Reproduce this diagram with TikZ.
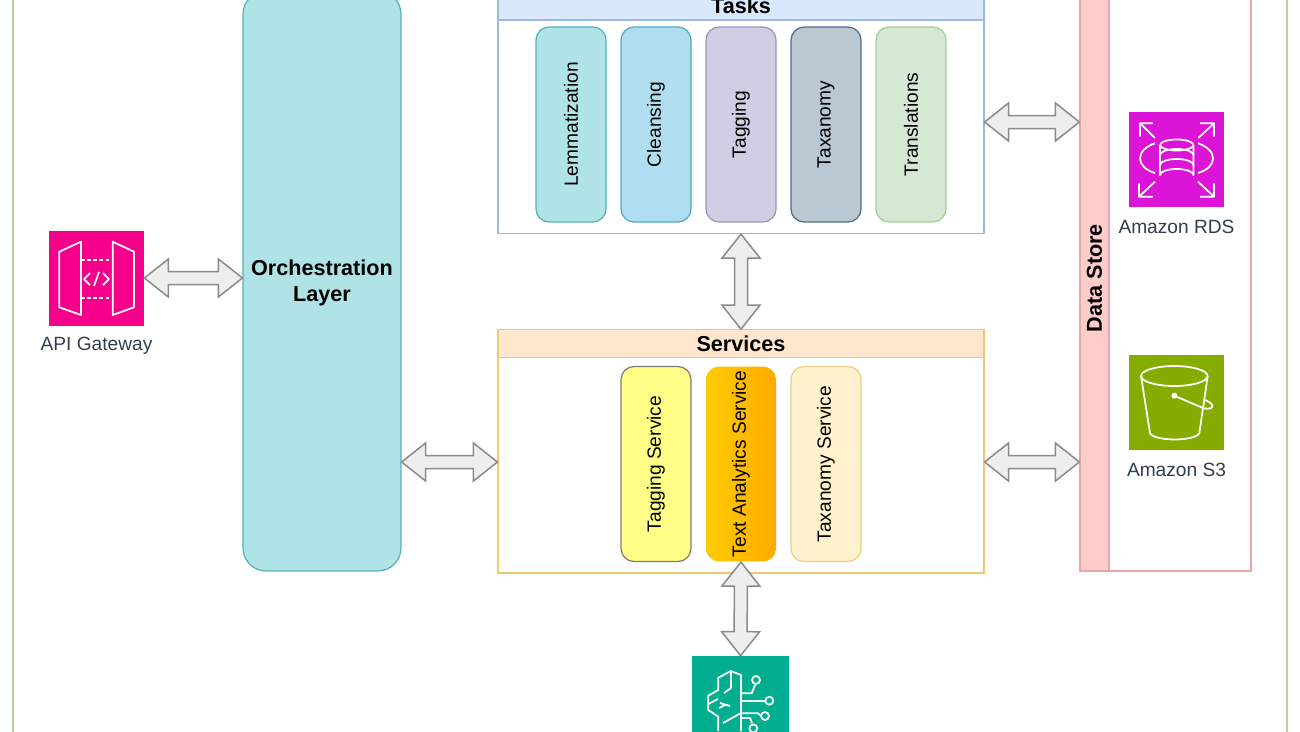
\documentclass[tikz,border=0pt]{standalone}
\usepackage{fontspec}
\setmainfont{Liberation Sans}
\usetikzlibrary{calc}

\definecolor{framegreen}{HTML}{AFD69B}
\definecolor{tealfill}{HTML}{B0E3E6}
\definecolor{tealline}{HTML}{52B3B8}
\definecolor{bluefill}{HTML}{B1DDF0}
\definecolor{blueline}{HTML}{4FA8CC}
\definecolor{purplefill}{HTML}{D0CEE2}
\definecolor{purpleline}{HTML}{9A95BC}
\definecolor{slatefill}{HTML}{BAC8D3}
\definecolor{slateline}{HTML}{4F6B82}
\definecolor{greenfill}{HTML}{D5E8D4}
\definecolor{greenline}{HTML}{A7CC9B}
\definecolor{taskshead}{HTML}{DAE8FC}
\definecolor{tasksline}{HTML}{9DB8DE}
\definecolor{svchead}{HTML}{FFE6CC}
\definecolor{svcline}{HTML}{F3C674}
\definecolor{lemonfill}{HTML}{FFFF88}
\definecolor{lemonline}{HTML}{7E7F72}
\definecolor{creamfill}{HTML}{FFF2CC}
\definecolor{creamline}{HTML}{EBCE86}
\definecolor{amberleft}{HTML}{FFCC00}
\definecolor{amberright}{HTML}{FFAA00}
\definecolor{storefill}{HTML}{FFCCCC}
\definecolor{storeline}{HTML}{E5A8A6}
\definecolor{apipink}{HTML}{F4008A}
\definecolor{rdspurple}{HTML}{DC14D8}
\definecolor{s3green}{HTML}{86AC00}
\definecolor{aigreen}{HTML}{01AE8F}
\definecolor{labelgray}{HTML}{2F3E50}
\definecolor{arrowline}{HTML}{8A8A8A}
\definecolor{arrowfill}{HTML}{EEEEEE}

\newcommand{\vlabel}[1]{\rotatebox{90}{#1}}

\tikzset{
    cardbox/.style={draw, line width=0.7pt, rounded corners=0.26cm, minimum width=1.4cm,
        minimum height=3.9cm, inner sep=0pt, font=\fontsize{10.9}{13}\selectfont},
    groupbox/.style={draw, line width=0.7pt, minimum width=9.72cm, inner sep=0pt},
    headbox/.style={draw, line width=0.7pt, minimum width=9.72cm, inner sep=0pt,
        font=\fontsize{12.3}{14}\selectfont\bfseries},
    iconbox/.style={minimum size=1.9cm, inner sep=0pt},
    iconlabel/.style={text=labelgray, inner sep=0pt, font=\fontsize{10.9}{13}\selectfont},
    iconline/.style={white, line width=1pt, line join=round},
    blockarrow/.style={draw=arrowline, fill=arrowfill, line width=0.85pt, line join=miter,
        to path={
            -- ($(\tikztostart)!0.48cm!(\tikztotarget)!0.38cm!90:(\tikztotarget)$)
            -- ($(\tikztostart)!0.48cm!(\tikztotarget)!0.13cm!90:(\tikztotarget)$)
            -- ($(\tikztotarget)!0.48cm!(\tikztostart)!0.13cm!-90:(\tikztostart)$)
            -- ($(\tikztotarget)!0.48cm!(\tikztostart)!0.38cm!-90:(\tikztostart)$)
            -- (\tikztotarget)
            -- ($(\tikztotarget)!0.48cm!(\tikztostart)!0.38cm!90:(\tikztostart)$)
            -- ($(\tikztotarget)!0.48cm!(\tikztostart)!0.13cm!90:(\tikztostart)$)
            -- ($(\tikztostart)!0.48cm!(\tikztotarget)!0.13cm!-90:(\tikztotarget)$)
            -- ($(\tikztostart)!0.48cm!(\tikztotarget)!0.38cm!-90:(\tikztotarget)$)
            -- cycle}},
}

\begin{document}
\begin{tikzpicture}[x=0.02cm, y=-0.02cm]
    \useasboundingbox (0,0) rectangle (1300,731);
    \clip (0,0) rectangle (1300,731);

    % Outer frame
    \draw[framegreen, line width=0.8pt] (13,-20) rectangle (1287,760);

    % Orchestration layer
    \node[draw=tealline, fill=tealfill, line width=0.7pt, rounded corners=0.46cm,
        minimum width=3.16cm, minimum height=11.6cm, inner sep=0pt] (orch) at (322,281) {};
    \node[align=center, inner sep=0pt, font=\fontsize{12.3}{14.8}\selectfont\bfseries] (orchtitle) at (322,283) {Orchestration\\Layer};

    % Tasks
    \node[groupbox, draw=tasksline, fill=white, minimum height=4.7cm] (tasksbox) at (741,116) {};
    \node[headbox, draw=tasksline, fill=taskshead, minimum height=0.8cm] (taskshead) at (741,0) {};
    \node[inner sep=0pt, font=\fontsize{12.3}{14}\selectfont\bfseries] (taskstitle) at (741,6) {Tasks};
    \node[cardbox, draw=tealline, fill=tealfill] (lemma) at (571,124.5) {\vlabel{Lemmatization}};
    \node[cardbox, draw=blueline, fill=bluefill] (cleansing) at (656,124.5) {\vlabel{Cleansing}};
    \node[cardbox, draw=purpleline, fill=purplefill] (tagging) at (741,124.5) {\vlabel{Tagging}};
    \node[cardbox, draw=slateline, fill=slatefill] (taxanomy) at (826,124.5) {\vlabel{Taxanomy}};
    \node[cardbox, draw=greenline, fill=greenfill] (translations) at (911,124.5) {\vlabel{Translations}};

    % Services
    \node[groupbox, draw=svcline, fill=white, minimum height=4.86cm] (svcbox) at (741,451.5) {};
    \node[headbox, draw=svcline, fill=svchead, minimum height=0.55cm] (svchead) at (741,343.5) {Services};
    \node[cardbox, draw=lemonline, fill=lemonfill] (tagsvc) at (656,464) {\vlabel{Tagging Service}};
    \node[cardbox, draw=none, left color=amberleft, right color=amberright] (textsvc) at (741,464) {\vlabel{Text Analytics Service}};
    \node[cardbox, draw=creamline, fill=creamfill] (taxsvc) at (826,464) {\vlabel{Taxanomy Service}};

    % Data store
    \node[draw=storeline, fill=white, line width=0.7pt, minimum width=3.42cm, minimum height=11.72cm, inner sep=0pt] (storebox) at (1165.5,278) {};
    \node[draw=storeline, fill=storefill, line width=0.7pt, minimum width=0.58cm, minimum height=11.72cm, inner sep=0pt,
        font=\fontsize{12.3}{14}\selectfont\bfseries] (storehead) at (1094.5,278) {\vlabel{Data Store}};

    % Icons
    \node[iconbox, fill=apipink] (apigw) at (96.5,278) {};
    \node[iconlabel, anchor=center] (apilabel) at (96.5,346) {API Gateway};
    \node[iconbox, fill=rdspurple] (rds) at (1176.5,159.5) {};
    \node[iconlabel, anchor=center] (rdslabel) at (1176.5,227) {Amazon RDS};
    \node[iconbox, fill=s3green] (s3) at (1176.5,402.5) {};
    \node[iconlabel, anchor=center] (s3label) at (1176.5,470) {Amazon S3};
    \node[iconbox, fill=aigreen, minimum size=1.94cm] (textai) at (740.5,704.5) {};

    % API Gateway glyph
    \draw[iconline] (59.3,251.7) -- (81,241.7) -- (81,315) -- (59.3,307.3) -- cycle;
    \draw[iconline] (112.7,241.7) -- (134,251.7) -- (134,307.3) -- (112.7,315) -- cycle;
    \draw[iconline, dash pattern=on 2.2pt off 1.3pt] (81,260) -- (112.7,260);
    \draw[iconline, dash pattern=on 2.2pt off 1.3pt] (81,298.3) -- (112.7,298.3);
    \draw[iconline] (90,273) -- (84,279) -- (90,285);
    \draw[iconline] (94,286) -- (99,272);
    \draw[iconline] (103,273) -- (109,279) -- (103,285);

    % RDS glyph
    \draw[iconline] (1160,145) -- (1160,175) arc[start angle=180, end angle=360, x radius=16.7, y radius=6] -- (1193.4,145);
    \draw[iconline] (1176.7,145) ellipse [x radius=16.7, y radius=5.5];
    \draw[iconline] (1160,155) arc[start angle=180, end angle=360, x radius=16.7, y radius=6];
    \draw[iconline] (1160,165) arc[start angle=180, end angle=360, x radius=16.7, y radius=6];
    \draw[iconline] (1155,143.3) .. controls (1135,150) and (1135,167) .. (1155,173);
    \draw[iconline] (1198,143.3) .. controls (1218,150) and (1218,167) .. (1198,173);
    \draw[iconline] (1155,138) -- (1140,123.3) (1140,136.7) -- (1140,123.3) -- (1153,123.3);
    \draw[iconline] (1198.3,138) -- (1214,123.3) (1200,123.3) -- (1214,123.3) -- (1214,136.7);
    \draw[iconline] (1155,181.7) -- (1139,196.7) (1139,183.3) -- (1139,196.7) -- (1153,196.7);
    \draw[iconline] (1198,181.7) -- (1214,196.7) (1214,183.3) -- (1214,196.7) -- (1200,196.7);

    % S3 glyph
    \draw[iconline] (1174.3,376) ellipse [x radius=33.3, y radius=10];
    \draw[iconline] (1141,376) -- (1150,433.3) .. controls (1155,441.5) and (1194,441.5) .. (1199.3,433.3) -- (1207.7,376);
    \fill[white] (1174.3,395.7) circle [radius=3];
    \draw[iconline] (1174.3,395.7) -- (1203,408) .. controls (1214,411) and (1216,404) .. (1205,400);

    % Brain glyph
    \draw[iconline] (741,731) -- (741,675) -- (731,671) -- (718.3,677.7) -- (718.3,690) -- (708.3,695.7) -- (708.3,710) -- (718.3,716.7) -- (718.3,731);
    \draw[iconline] (731,671) -- (731,688) -- (724,693);
    \draw[iconline] (708.3,704) -- (718,699);
    \draw[iconline] (720,703) -- (730,706) (725,705) -- (719,708);
    \draw[iconline] (723,723) -- (741,713);
    \draw[iconline] (741,693.3) -- (751.7,693.3) -- (755,685);
    \draw[iconline] (756,680) circle [radius=4];
    \draw[iconline] (741,700.7) -- (765,700.7);
    \draw[iconline] (769.3,700.7) circle [radius=4];
    \draw[iconline] (741,713.3) -- (758,713.3) -- (761,716);
    \draw[iconline] (765,716) circle [radius=4];
    \draw[iconline] (741,718) -- (750,718) -- (752,723);
    \draw[iconline] (753.3,728.3) circle [radius=4];

    % Free ends that sit off the centre of their box
    \coordinate (orchapi) at (orch.west |- apigw.east);
    \coordinate (orchsvc) at (orch.east |- 0,462);
    \coordinate (svcorch) at (svcbox.west |- 0,462);
    \coordinate (svcstore) at (svcbox.east |- 0,462);
    \coordinate (storesvc) at (storehead.west |- 0,462);
    \coordinate (taskstore) at (tasksbox.east |- 0,122);
    \coordinate (storetask) at (storehead.west |- 0,122);

    % Connectors
    \draw[blockarrow] (apigw.east) to (orchapi);
    \draw[blockarrow] (orchsvc) to (svcorch);
    \draw[blockarrow] (taskstore) to (storetask);
    \draw[blockarrow] (svcstore) to (storesvc);
    \draw[blockarrow] (tasksbox.south) to (svchead.north);
    \draw[blockarrow] (textsvc.south) to (textai.north);
\end{tikzpicture}
\end{document}
